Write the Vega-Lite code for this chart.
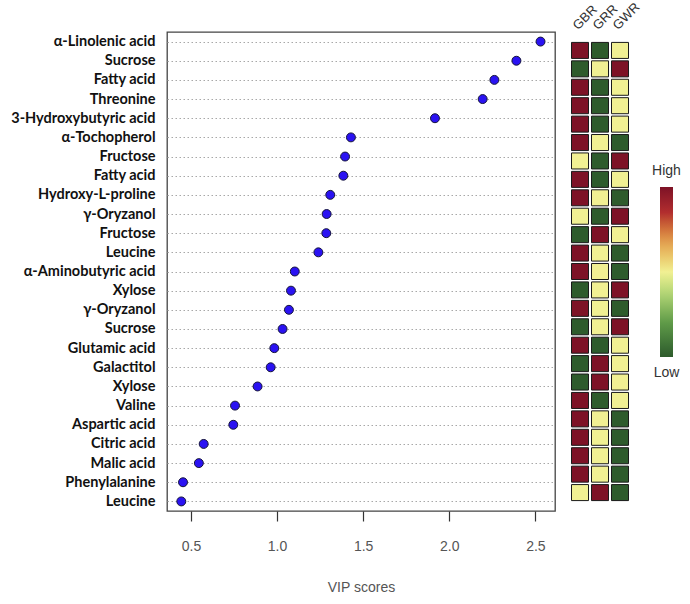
{
  "$schema": "https://vega.github.io/schema/vega-lite/v6.json",
  "padding": {"left": 10, "top": 0, "right": 5, "bottom": 5},
  "background": "white",
  "bounds": "flush",
  "spacing": 15,
  "config": {
    "view": {"stroke": "#444444", "strokeWidth": 1.3},
    "font": "Liberation Sans"
  },
  "datasets": {
    "vip": [
      {"name": "α-Linolenic acid", "vip": 2.53, "GBR": 1, "GRR": -1, "GWR": 0},
      {"name": "Sucrose", "vip": 2.39, "GBR": -1, "GRR": 0, "GWR": 1},
      {"name": "Fatty acid", "vip": 2.262, "GBR": 1, "GRR": -1, "GWR": 0},
      {"name": "Threonine", "vip": 2.194, "GBR": 1, "GRR": -1, "GWR": 0},
      {"name": "3-Hydroxybutyric acid", "vip": 1.917, "GBR": 1, "GRR": -1, "GWR": 0},
      {"name": "α-Tochopherol", "vip": 1.429, "GBR": 1, "GRR": 0, "GWR": -1},
      {"name": "Fructose", "vip": 1.395, "GBR": 0, "GRR": -1, "GWR": 1},
      {"name": "Fatty acid\u200b", "vip": 1.385, "GBR": 1, "GRR": -1, "GWR": 0},
      {"name": "Hydroxy-L-proline", "vip": 1.309, "GBR": 1, "GRR": 0, "GWR": -1},
      {"name": "γ-Oryzanol", "vip": 1.288, "GBR": 0, "GRR": -1, "GWR": 1},
      {"name": "Fructose\u200b", "vip": 1.286, "GBR": -1, "GRR": 1, "GWR": 0},
      {"name": "Leucine", "vip": 1.24, "GBR": 1, "GRR": 0, "GWR": -1},
      {"name": "α-Aminobutyric acid", "vip": 1.103, "GBR": 1, "GRR": 0, "GWR": -1},
      {"name": "Xylose", "vip": 1.081, "GBR": -1, "GRR": 0, "GWR": 1},
      {"name": "γ-Oryzanol\u200b", "vip": 1.069, "GBR": 1, "GRR": 0, "GWR": -1},
      {"name": "Sucrose\u200b", "vip": 1.032, "GBR": -1, "GRR": 0, "GWR": 1},
      {"name": "Glutamic acid", "vip": 0.984, "GBR": 1, "GRR": -1, "GWR": 0},
      {"name": "Galactitol", "vip": 0.963, "GBR": -1, "GRR": 1, "GWR": 0},
      {"name": "Xylose\u200b", "vip": 0.887, "GBR": -1, "GRR": 1, "GWR": 0},
      {"name": "Valine", "vip": 0.756, "GBR": 1, "GRR": -1, "GWR": 0},
      {"name": "Aspartic acid", "vip": 0.746, "GBR": 1, "GRR": 0, "GWR": -1},
      {"name": "Citric acid", "vip": 0.574, "GBR": 1, "GRR": 0, "GWR": -1},
      {"name": "Malic acid", "vip": 0.546, "GBR": 1, "GRR": 0, "GWR": -1},
      {"name": "Phenylalanine", "vip": 0.454, "GBR": 1, "GRR": 0, "GWR": -1},
      {"name": "Leucine\u200b", "vip": 0.444, "GBR": 0, "GRR": 1, "GWR": -1}
    ]
  },
  "resolve": {"scale": {"color": "independent"}, "legend": {"color": "independent"}},
  "hconcat": [
    {
      "width": 388,
      "height": 479,
      "data": {"name": "vip"},
      "mark": {"type": "circle", "size": 80, "fill": "#2a12f2", "stroke": "#15153a", "strokeWidth": 1, "opacity": 1},
      "encoding": {
        "y": {
          "field": "name",
          "type": "nominal",
          "sort": null,
          "scale": {"paddingInner": 0.13, "paddingOuter": 0.565},
          "axis": {
            "title": null,
            "ticks": false,
            "domain": false,
            "labelFont": "Lato",
            "labelFontWeight": "bold",
            "labelFontSize": 14.5,
            "labelColor": "#111111",
            "labelPadding": 12,
            "labelLimit": 250,
            "grid": true,
            "gridDash": [1.5, 2.5],
            "gridColor": "#a8a8a8",
            "gridWidth": 1,
            "bandPosition": 0.5
          }
        },
        "x": {
          "field": "vip",
          "type": "quantitative",
          "scale": {"domain": [0.361, 2.614], "nice": false, "zero": false},
          "axis": {
            "values": [0.5, 1, 1.5, 2, 2.5],
            "format": ".1f",
            "grid": false,
            "domain": false,
            "tickSize": 10,
            "tickColor": "#333333",
            "tickWidth": 1.2,
            "labelFontSize": 14,
            "labelColor": "#555555",
            "labelPadding": 18,
            "title": "VIP scores",
            "titleFontSize": 14,
            "titleFontWeight": "normal",
            "titleColor": "#555555",
            "titlePadding": 27
          }
        }
      }
    },
    {
      "width": 60,
      "height": 479,
      "view": {"stroke": null},
      "data": {"name": "vip"},
      "transform": [{"fold": ["GBR", "GRR", "GWR"], "as": ["sample", "level"]}],
      "mark": {"type": "rect", "stroke": "#1a1a1a", "strokeWidth": 1},
      "encoding": {
        "y": {
          "field": "name",
          "type": "nominal",
          "sort": null,
          "scale": {"paddingInner": 0.13, "paddingOuter": 0.565},
          "axis": null
        },
        "x": {
          "field": "sample",
          "type": "nominal",
          "sort": ["GBR", "GRR", "GWR"],
          "scale": {"paddingInner": 0.15, "paddingOuter": 0.075},
          "axis": {
            "orient": "top",
            "title": null,
            "labelAngle": -45,
            "domain": false,
            "ticks": false,
            "labelFontSize": 13,
            "labelColor": "#333333",
            "labelPadding": 0
          }
        },
        "color": {
          "field": "level",
          "type": "quantitative",
          "scale": {
            "domain": [-1, -0.6, -0.25, 0, 0.35, 0.7, 1],
            "range": ["#2e5b2c", "#5f9a48", "#b2d676", "#f1f093", "#e3a050", "#b22e2e", "#7d1226"]
          },
          "legend": {
            "orient": "none",
            "legendX": 90,
            "legendY": 155,
            "padding": 0,
            "direction": "vertical",
            "title": null,
            "gradientLength": 170,
            "gradientThickness": 13,
            "gradientStrokeWidth": 0,
            "values": [-1, 1],
            "labelExpr": "datum.value > 0 ? 'High' : 'Low'",
            "labelFontSize": 14,
            "labelColor": "#333333",
            "labelOffset": -6.5,
            "labelAlign": "center",
            "encoding": {
              "labels": {
                "align": {"value": "center"},
                "baseline": {"value": "middle"},
                "dy": {"value": {"expr": "datum.value > 0 ? -16 : 16"}}
              }
            }
          }
        }
      }
    }
  ]
}
